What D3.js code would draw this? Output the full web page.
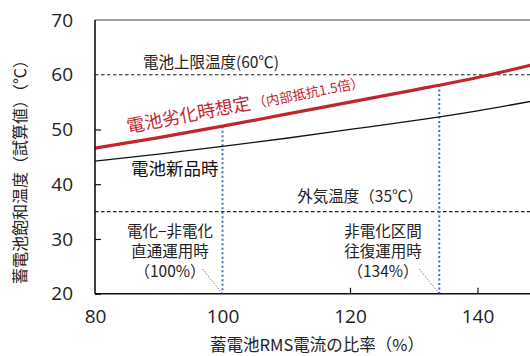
<!DOCTYPE html>
<html><head><meta charset="utf-8">
<script src="https://cdn.jsdelivr.net/npm/d3@7"></script>
<style>
html,body{margin:0;padding:0;background:#fff;}
svg text{font-family:"Noto Sans CJK JP","Noto Sans",sans-serif;}
</style></head>
<body><svg id="c" width="530" height="356"></svg>
<script>
// RMS current ratio (%) and estimated saturation temperature (°C)
const ratio      = [80, 90, 100, 110, 120, 130, 140, 150];
const tempAged   = [46.6, 48.5, 50.6, 52.8, 55.0, 57.2, 59.5, 62.2];
const tempNew    = [44.2, 45.5, 46.9, 48.4, 50.0, 51.6, 53.4, 55.5];
const xTicks     = [80, 100, 120, 140];
const yTicks     = [20, 30, 40, 50, 60, 70];
const limitTemp  = 60;   // battery upper limit
const ambientTemp = 35;  // outside air
const operations = [
  {ratio: 100, lines: ["電化−非電化", "直通運用時", "（100%）"]},
  {ratio: 134, lines: ["非電化区間", "往復運用時", "（134%）"]}
];

const svg = d3.select("#c");
const x = d3.scaleLinear().domain([80, 150]).range([95, 541.25]);
const y = d3.scaleLinear().domain([20, 70]).range([293.7, 20]);
const x0 = x(80), x1 = 530;

// top frame line
svg.append("line").attr("x1", x0).attr("x2", x1).attr("y1", y(70)).attr("y2", y(70))
  .attr("stroke", "#808080").attr("stroke-width", 1.5);

// reference levels
[limitTemp, ambientTemp].forEach(t => {
  svg.append("line").attr("x1", x0).attr("x2", x1).attr("y1", y(t)).attr("y2", y(t))
    .attr("stroke", "#222").attr("stroke-width", 1.2).attr("stroke-dasharray", "3.5,2.5");
});

const line = vals => d3.line().x((d, i) => x(ratio[i])).y(d => y(d)).curve(d3.curveMonotoneX)(vals);
const interp = (vals, r) => {
  const i = d3.bisectRight(ratio, r) - 1;
  const t = (r - ratio[i]) / (ratio[i + 1] - ratio[i]);
  return vals[i] + t * (vals[i + 1] - vals[i]);
};

// operating-point markers
operations.forEach(o => {
  svg.append("line").attr("x1", x(o.ratio)).attr("x2", x(o.ratio))
    .attr("y1", y(interp(tempAged, o.ratio))).attr("y2", y(20))
    .attr("stroke", "#3f72b8").attr("stroke-width", 2).attr("stroke-dasharray", "2,2.5");
});

svg.append("path").attr("d", line(tempNew)).attr("fill", "none")
  .attr("stroke", "#111").attr("stroke-width", 1.3);
svg.append("path").attr("d", line(tempAged)).attr("fill", "none")
  .attr("stroke", "#c0272d").attr("stroke-width", 3.2);

// axes
const xAxis = svg.append("g").attr("transform", `translate(0,${y(20)})`)
  .call(d3.axisBottom(x).tickValues(xTicks).tickSize(-6).tickPadding(16).tickFormat(d3.format("d")));
const yAxis = svg.append("g").attr("transform", `translate(${x0},0)`)
  .call(d3.axisLeft(y).tickValues(yTicks).tickSize(-6).tickPadding(22).tickFormat(d3.format("d")));
[xAxis, yAxis].forEach(g => {
  g.select(".domain").attr("stroke", "#111").attr("stroke-width", 1.6);
  g.selectAll(".tick line").attr("stroke", "#111").attr("stroke-width", 1.2);
  g.selectAll(".tick text").attr("font-size", 19).attr("fill", "#222")
    .style("font-family", "'Open Sans','Noto Sans',sans-serif");
});
xAxis.select(".domain").attr("d", `M${x0},0H${x1}`);
yAxis.select(".domain").attr("d", `M0,${y(20)}V${y(70)}`);
yAxis.selectAll(".tick").filter(d => d === 70 || d === 60).select("line").remove();
xAxis.selectAll(".tick").filter(d => d === 80 || d === 100).select("line").remove();

// axis titles
svg.append("text").attr("transform", `translate(26,${168}) rotate(-90)`)
  .attr("text-anchor", "middle").attr("font-size", 16).attr("fill", "#222")
  .text("蓄電池飽和温度（試算値）（℃）");
svg.append("text").attr("x", 317).attr("y", 351).attr("text-anchor", "middle")
  .attr("font-size", 16.5).attr("fill", "#222").text("蓄電池RMS電流の比率（%）");

// annotations
svg.append("text").attr("x", 211).attr("y", 68).attr("text-anchor", "middle")
  .attr("font-size", 15.5).attr("fill", "#222").text("電池上限温度(60℃)");
svg.append("text").attr("x", 423).attr("y", 202).attr("text-anchor", "end")
  .attr("font-size", 15.5).attr("fill", "#222").text("外気温度（35℃）");
svg.append("text").attr("x", 131).attr("y", 175).attr("font-size", 17.5).attr("fill", "#111")
  .text("電池新品時");

const aged = svg.append("text").attr("transform", "translate(128,133) rotate(-11)")
  .attr("fill", "#c0272d");
aged.append("tspan").attr("font-size", 18).text("電池劣化時想定");
aged.append("tspan").attr("font-size", 13.5).attr("dx", 2).text("（内部抵抗1.5倍）");

const labelX = {100: 170, 134: 383};
operations.forEach(o => {
  const t = svg.append("text").attr("text-anchor", "middle").attr("font-size", 15.5).attr("fill", "#222");
  o.lines.forEach((s, i) => t.append("tspan").attr("x", labelX[o.ratio]).attr("y", 237 + i * 20).text(s));
  svg.append("line").attr("x1", x(o.ratio) - 20).attr("y1", 269).attr("x2", x(o.ratio)).attr("y2", y(20))
    .attr("stroke", "#555").attr("stroke-width", 0.8).attr("stroke-dasharray", "1.5,1.5");
});
</script></body></html>
